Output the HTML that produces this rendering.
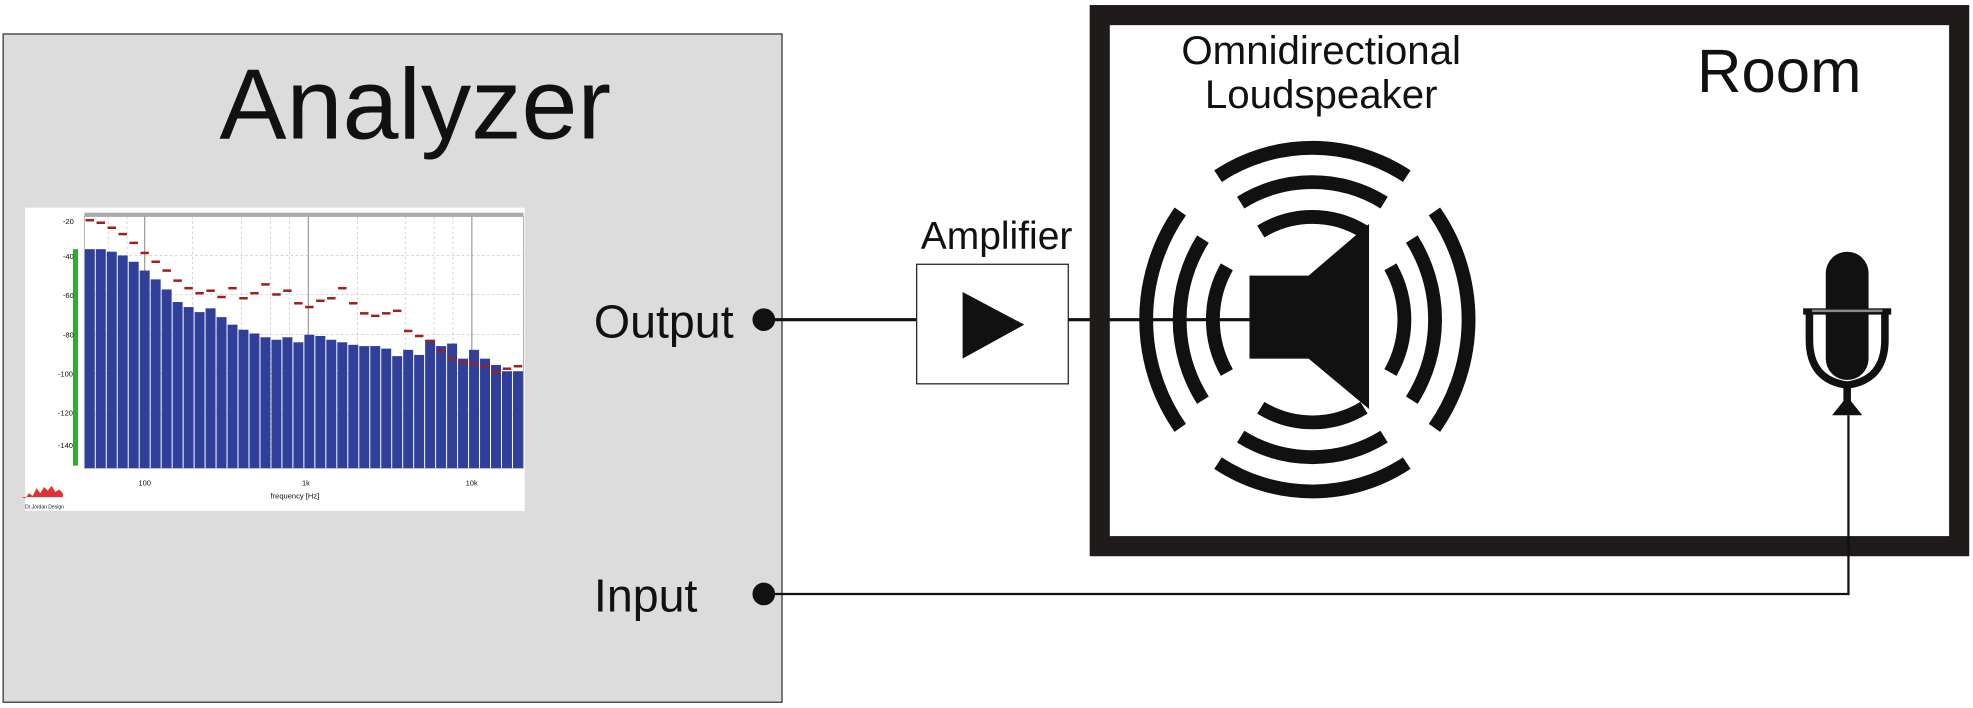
<!DOCTYPE html>
<html><head><meta charset="utf-8"><style>
html,body{margin:0;padding:0;background:#fff;width:1973px;height:708px;overflow:hidden}
svg{display:block}
text{font-family:"Liberation Sans",Arial,sans-serif;fill:#111}
</style></head><body>
<svg width="1973" height="708" viewBox="0 0 1568 562.6" preserveAspectRatio="none" xmlns="http://www.w3.org/2000/svg">
<rect x="2.5" y="27" width="619" height="531" fill="#dcdcdc" stroke="#333" stroke-width="1"/>
<text x="330" y="110" font-size="80" text-anchor="middle">Analyzer</text>
<rect x="20" y="165" width="397" height="241" fill="#fff"/>
<rect x="67" y="172" width="349" height="200" fill="#fff" stroke="#999" stroke-width="0.6"/>
<rect x="67" y="169" width="349" height="3" fill="#aaa"/>
<g stroke="#bbb" stroke-width="0.5" stroke-dasharray="2,2">
<line x1="67" y1="203" x2="416" y2="203"/><line x1="67" y1="234" x2="416" y2="234"/><line x1="67" y1="266" x2="416" y2="266"/><line x1="67" y1="297" x2="416" y2="297"/><line x1="67" y1="329" x2="416" y2="329"/>
<line x1="86" y1="172" x2="86" y2="372"/><line x1="101" y1="172" x2="101" y2="372"/><line x1="153" y1="172" x2="153" y2="372"/><line x1="192" y1="172" x2="192" y2="372"/><line x1="215" y1="172" x2="215" y2="372"/><line x1="230" y1="172" x2="230" y2="372"/><line x1="284" y1="172" x2="284" y2="372"/><line x1="322" y1="172" x2="322" y2="372"/><line x1="345" y1="172" x2="345" y2="372"/><line x1="360" y1="172" x2="360" y2="372"/>
</g>
<g stroke="#888" stroke-width="0.8"><line x1="115" y1="172" x2="115" y2="372"/><line x1="245" y1="172" x2="245" y2="372"/><line x1="375" y1="172" x2="375" y2="372"/></g>
<rect x="58" y="198" width="4" height="172" fill="#3a3"/>
<g fill="#2f3f9a" id="bars"></g>
<g fill="#a02020" id="marks"></g>
<g font-size="6" fill="#333">
<text x="50" y="178" font-size="6">-20</text><text x="50" y="206" font-size="6">-40</text><text x="50" y="237" font-size="6">-60</text><text x="50" y="268" font-size="6">-80</text><text x="46" y="299" font-size="6">-100</text><text x="46" y="330" font-size="6">-120</text><text x="46" y="356" font-size="6">-140</text>
<text x="110" y="386" font-size="6">100</text><text x="240" y="386" font-size="6">1k</text><text x="370" y="386" font-size="6">10k</text>
<text x="215" y="396" font-size="6">frequency [Hz]</text><text x="20" y="404" font-size="4">Dr.Jordan Design</text>
</g>
<path d="M20 396 l3 -4 3 2 3 -6 3 4 3 -5 3 3 3 -4 3 5 3 -2 3 3 v3 h-33z" fill="#d33"/>
<text x="472" y="268" font-size="37">Output</text>
<text x="472" y="486" font-size="37">Input</text>
<circle cx="607" cy="254" r="9" fill="#111"/>
<circle cx="607" cy="472" r="9" fill="#111"/>
<line x1="607" y1="254" x2="728" y2="254" stroke="#111" stroke-width="2.5"/>
<text x="792" y="198" font-size="31" text-anchor="middle">Amplifier</text>
<rect x="728.5" y="210" width="120.5" height="95" fill="#fff" stroke="#222" stroke-width="1"/>
<polygon points="765,232 814,258 765,285" fill="#111"/>
<line x1="849" y1="254" x2="995" y2="254" stroke="#111" stroke-width="2.5"/>
<rect x="874" y="12" width="683" height="422" fill="none" stroke="#1e1b1a" stroke-width="16"/>
<text x="1414" y="73" font-size="49" text-anchor="middle">Room</text>
<text x="1050" y="51" font-size="32" text-anchor="middle">Omnidirectional</text>
<text x="1050" y="86" font-size="32" text-anchor="middle">Loudspeaker</text>
<rect x="993" y="219" width="52" height="66" fill="#111"/>
<polygon points="1040,219 1088,178 1088,325 1040,285" fill="#111"/>
<g fill="none" stroke="#111" stroke-width="11">
<path d="M968,140 A136,136 0 0 1 1118,140"/>
<path d="M986,161 A108,108 0 0 1 1100,161"/>
<path d="M1002,184 A78,78 0 0 1 1084,184"/>
<path d="M968,368 A136,136 0 0 0 1118,368"/>
<path d="M986,347 A108,108 0 0 0 1100,347"/>
<path d="M1002,324 A78,78 0 0 0 1084,324"/>
<path d="M938,168 A150,150 0 0 0 938,340"/>
<path d="M956,190 A120,120 0 0 0 956,318"/>
<path d="M975,212 A85,85 0 0 0 975,296"/>
<path d="M1140,168 A150,150 0 0 1 1140,340"/>
<path d="M1122,190 A120,120 0 0 1 1122,318"/>
<path d="M1105,212 A85,85 0 0 1 1105,296"/>
</g>
<rect x="1451" y="200" width="34" height="102" rx="17" fill="#111"/>
<path d="M1438,248 V270 Q1438,302 1468,306 Q1498,302 1498,270 V248" fill="none" stroke="#111" stroke-width="6"/>
<rect x="1433" y="245" width="70" height="5" fill="#111"/>
<rect x="1440" y="246" width="56" height="2" fill="#888"/>
<rect x="1465" y="304" width="6" height="16" fill="#111"/>
<polygon points="1468,315 1480,330 1456,330" fill="#111"/>
<polyline points="1469,330 1469,472 607,472" fill="none" stroke="#111" stroke-width="1.8"/>
</svg>
<script>
var tops=[198,198,200,203,208,215,222,230,240,244,248,245,252,258,262,265,268,270,268,272,266,267,270,272,274,275,275,277,283,278,282,270,275,273,285,278,285,290,295,295];
var marks=[174,176,180,185,192,200,207,214,222,228,232,230,235,228,236,232,225,233,230,240,243,238,236,228,240,248,250,248,246,262,266,270,278,284,287,288,290,295,292,290];
var ns="http://www.w3.org/2000/svg",b=document.getElementById('bars'),m=document.getElementById('marks');
var w=349/tops.length;
for(var i=0;i<tops.length;i++){var r=document.createElementNS(ns,'rect');r.setAttribute('x',67+i*w+0.4);r.setAttribute('y',tops[i]);r.setAttribute('width',w-0.8);r.setAttribute('height',372-tops[i]);b.appendChild(r);
var k=document.createElementNS(ns,'rect');k.setAttribute('x',67+i*w+1);k.setAttribute('y',marks[i]);k.setAttribute('width',w-2);k.setAttribute('height',2);m.appendChild(k);}
</script>
</body></html>
